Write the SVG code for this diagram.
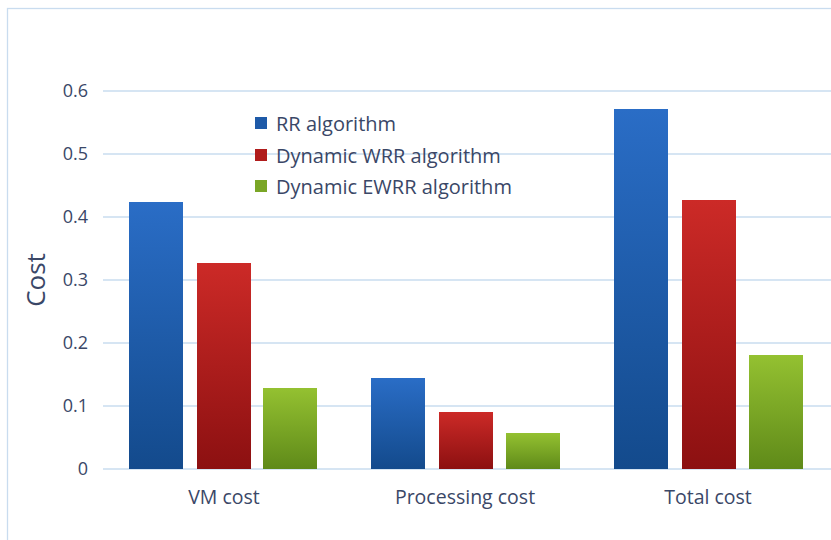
<svg xmlns="http://www.w3.org/2000/svg" width="831" height="540" viewBox="0 0 831 540">
<defs>
<linearGradient id="gb" x1="0" y1="0" x2="0" y2="1"><stop offset="0" stop-color="#2a6dc6"/><stop offset="1" stop-color="#134a8c"/></linearGradient>
<linearGradient id="gr" x1="0" y1="0" x2="0" y2="1"><stop offset="0" stop-color="#cc2a27"/><stop offset="1" stop-color="#8c1011"/></linearGradient>
<linearGradient id="gg" x1="0" y1="0" x2="0" y2="1"><stop offset="0" stop-color="#94c131"/><stop offset="1" stop-color="#5f8a19"/></linearGradient>
<style>
.grid{stroke:#c9dcef;stroke-width:1.3}
.t{font-family:"Open Sans","Noto Sans",sans-serif;fill:#3a4767;font-size:19.5px}
.lg{font-size:20px}
.ax{text-anchor:end;font-size:18px}
.c{text-anchor:middle}
</style>
</defs>
<rect x="7.5" y="8.5" width="840" height="550" fill="#fff" stroke="#c9dcef" stroke-width="1.3"/>
<g id="grid">
<line class="grid" x1="103" y1="91" x2="831" y2="91"/>
<line class="grid" x1="103" y1="154" x2="831" y2="154"/>
<line class="grid" x1="103" y1="217" x2="831" y2="217"/>
<line class="grid" x1="103" y1="280" x2="831" y2="280"/>
<line class="grid" x1="103" y1="343" x2="831" y2="343"/>
<line class="grid" x1="103" y1="406" x2="831" y2="406"/>
<line class="grid" x1="103" y1="469" x2="831" y2="469"/>
</g>
<g id="yaxis" class="t ax">
<text x="88" y="97">0.6</text>
<text x="88" y="160">0.5</text>
<text x="88" y="223">0.4</text>
<text x="88" y="286">0.3</text>
<text x="88" y="349">0.2</text>
<text x="88" y="412">0.1</text>
<text x="88" y="475">0</text>
</g>
<text class="t" x="0" y="0" text-anchor="middle" transform="translate(45,280) rotate(-90)" style="font-size:26px">Cost</text>
<g id="bars">
<rect x="129" y="202" width="54" height="267" fill="url(#gb)"/>
<rect x="197" y="263" width="54" height="206" fill="url(#gr)"/>
<rect x="263" y="388" width="54" height="81" fill="url(#gg)"/>
<rect x="371" y="378" width="54" height="91" fill="url(#gb)"/>
<rect x="439" y="412" width="54" height="57" fill="url(#gr)"/>
<rect x="506" y="433" width="54" height="36" fill="url(#gg)"/>
<rect x="614" y="109" width="54" height="360" fill="url(#gb)"/>
<rect x="682" y="200" width="54" height="269" fill="url(#gr)"/>
<rect x="749" y="355" width="54" height="114" fill="url(#gg)"/>
</g>
<g id="xaxis" class="t c">
<text x="224" y="504">VM cost</text>
<text x="465" y="504">Processing cost</text>
<text x="708" y="504">Total cost</text>
</g>
<g id="legend">
<rect x="255" y="117" width="12" height="12" fill="#1e5aa8"/>
<text class="t lg" x="276" y="131">RR algorithm</text>
<rect x="255" y="149" width="12" height="12" fill="#b01c1c"/>
<text class="t lg" x="276" y="163">Dynamic WRR algorithm</text>
<rect x="255" y="180" width="12" height="12" fill="#7aa626"/>
<text class="t lg" x="276" y="194">Dynamic EWRR algorithm</text>
</g>
</svg>
